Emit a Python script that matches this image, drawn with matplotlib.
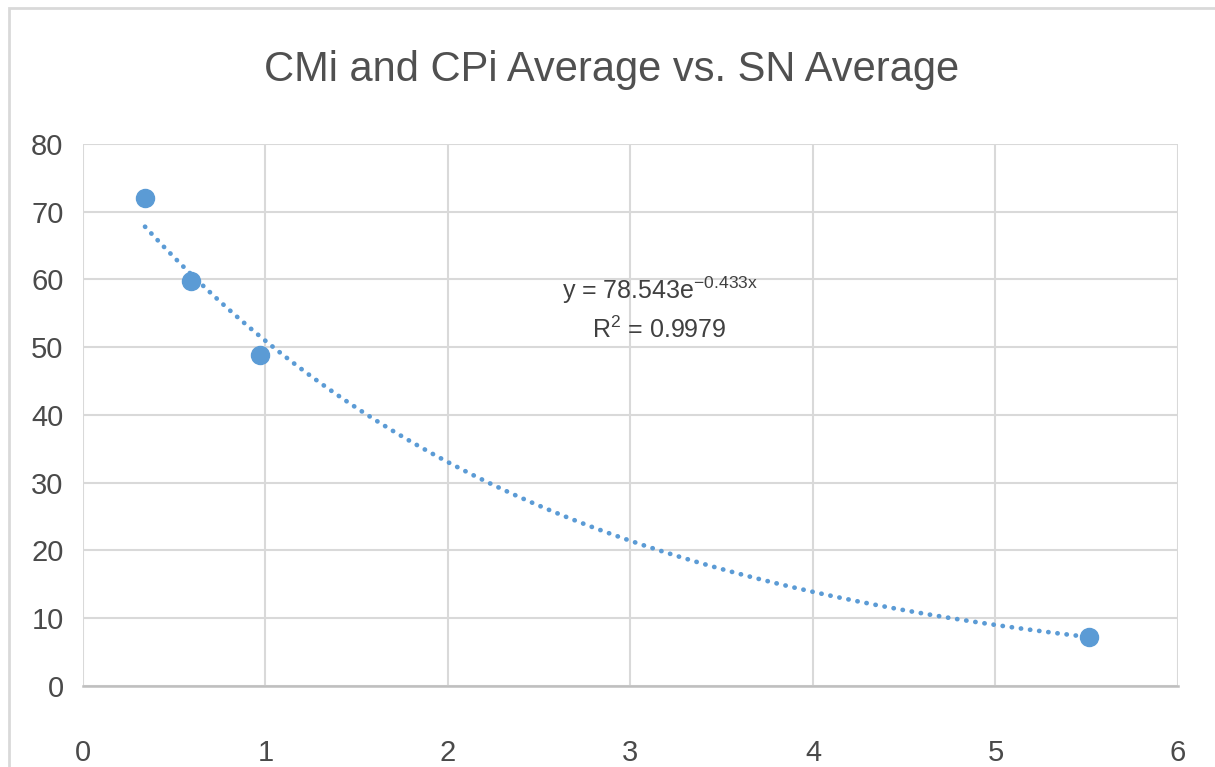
import matplotlib as mpl
mpl.use("Agg")
import numpy as np
import matplotlib.pyplot as plt
from matplotlib.patches import Rectangle

mpl.rcParams["font.family"] = ["Liberation Sans Narrow", "Liberation Sans", "DejaVu Sans"]

# data
sn_avg = [0.34, 0.59, 0.97, 5.51]
cm_cp_avg = [72.0, 59.8, 48.9, 7.2]
fit_a, fit_b = 78.543, -0.433
xticks = [0, 1, 2, 3, 4, 5, 6]
yticks = [0, 10, 20, 30, 40, 50, 60, 70, 80]

BLUE = "#5B9BD5"; GRID = "#D9D9D9"; TXT = "#4A4A4A"

fig = plt.figure(figsize=(12.15, 7.67), dpi=100)
fig.patches.append(Rectangle((0.007, -0.01), 1.2, 1.0, transform=fig.transFigure,
                             fill=False, edgecolor="#D9D9D9", lw=2.0))
ax = fig.add_axes([0.0683, 0.1056, 0.9012, 0.7067])

xs = np.linspace(min(sn_avg), max(sn_avg), 200)
ax.plot(xs, fit_a * np.exp(fit_b * xs), color=BLUE, lw=3.4, ls=(0, (0.05, 1.9)),
        dash_capstyle="round", zorder=3)
ax.plot(sn_avg, cm_cp_avg, "o", color=BLUE, ms=13, zorder=4)

ax.set_xlim(0, 6); ax.set_ylim(0, 80)
ax.set_xticks(xticks); ax.set_yticks(yticks)
ax.grid(True, color=GRID, lw=1.5)
ax.set_axisbelow(True)
for s in ("top", "right", "left"):
    ax.spines[s].set_visible(False)
ax.spines["bottom"].set_color("#BFBFBF"); ax.spines["bottom"].set_linewidth(1.8)
ax.tick_params(length=0, labelsize=21, colors=TXT, pad=14)
ax.tick_params(axis="x", pad=38)

ax.text(3.16, 58.4, r"y = 78.543e$^{\mathregular{-0.433x}}$", ha="center", va="center",
        fontsize=18, color="#404040")
ax.text(3.16, 52.5, r"R$^{\mathregular{2}}$ = 0.9979", ha="center", va="center",
        fontsize=18, color="#404040")

fig.text(0.503, 0.909, "CMi and CPi Average vs. SN Average", ha="center", va="center",
         fontsize=30, color="#505050")

fig.savefig("out.png", dpi=100)
